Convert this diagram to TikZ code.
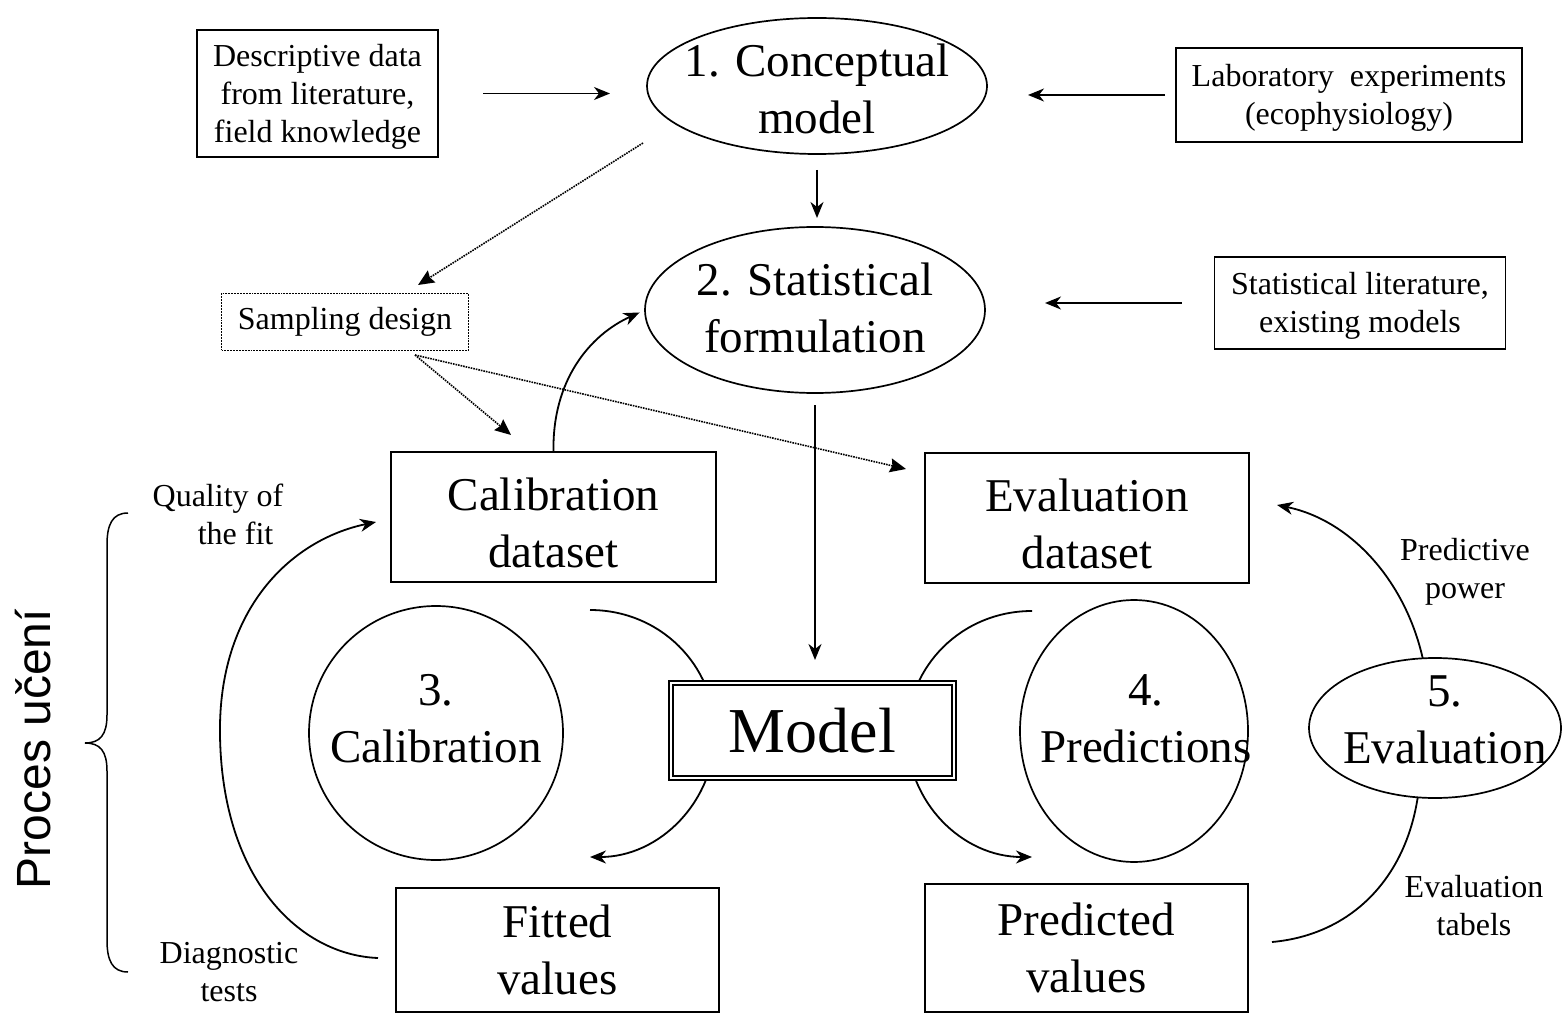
\documentclass[tikz,border=0pt]{standalone}
\usepackage{fontspec}
\setmainfont{Liberation Serif}
\newfontfamily\procfont{Liberation Sans}
\usetikzlibrary{arrows.meta,shapes.geometric}
\newcommand\fsm{\fontsize{32}{38}\selectfont}
\newcommand\fbg{\fontsize{47}{57}\selectfont}
\newcommand\fmd{\fontsize{64}{70}\selectfont}
\begin{document}
\begin{tikzpicture}[x=1pt,y=-1pt,
  box/.style={draw, line width=1.9pt, inner sep=0pt, outer sep=0pt, align=center, font=\fbg},
  sbox/.style={box, font=\fsm},
  ringshape/.style={ellipse, draw, line width=1.7pt, inner sep=0pt, outer sep=0pt},
  lbl/.style={align=center, font=\fsm, inner sep=0pt},
  blbl/.style={align=center, font=\fbg, inner sep=0pt},
  arr/.style={line width=1.8pt, -{Stealth[length=16pt,width=13pt,inset=5pt]}},
  darr/.style={line width=1.6pt, densely dotted, -{Stealth[length=16pt,width=14pt,inset=2pt]}},
  ln/.style={line width=1.8pt}
]
\useasboundingbox (0,0) rectangle (1563,1016);
\fill[white] (0,0) rectangle (1563,1016);

% arcs passing behind the Model box
\coordinate (a3s) at (590,610);
\coordinate (a3e) at (590,857);
\coordinate (a4s) at (1032,611);
\coordinate (a4e) at (1032,857);
\draw[arr] (a3s) .. controls (660,610) and (715,665) .. (715,733) .. controls (715,801) and (660,857) .. (a3e);
\draw[arr] (a4s) .. controls (962,611) and (907,666) .. (907,734) .. controls (907,802) and (962,857) .. (a4e);

% nodes
\node[sbox, minimum width=241pt, minimum height=127pt] (desc) at (317.5,93.5) {\rule{0pt}{28pt}Descriptive data\\from literature,\\field knowledge};
\node[ringshape, minimum width=340pt, minimum height=136pt] (ell1) at (817,86) {};
\node[blbl] (ell1t) at (817,89) {1. Conceptual\\model};
\node[sbox, minimum width=346pt, minimum height=94pt] (lab) at (1349,95) {\rule{0pt}{28pt}Laboratory\ \ experiments\\(ecophysiology)};
\node[ringshape, minimum width=340pt, minimum height=166pt] (ell2) at (815,310) {};
\node[blbl] (ell2t) at (815,308) {2. Statistical\\formulation};
\node[sbox, minimum width=291pt, minimum height=92pt] (stat) at (1360,303) {\rule{0pt}{28pt}Statistical literature,\\existing models};
\node[sbox, densely dotted, line width=1.4pt, minimum width=247pt, minimum height=57pt] (samp) at (345,322) {Sampling design};
\node[box, minimum width=325pt, minimum height=130pt] (cal) at (553.5,517) {\rule{0pt}{44pt}Calibration\\dataset};
\node[box, minimum width=324pt, minimum height=130pt] (evd) at (1087,518) {\rule{0pt}{44pt}Evaluation\\dataset};
\node[ringshape, minimum width=254pt, minimum height=254pt] (c3) at (436,733) {};
\node[blbl] (c3t) at (436,719) {3.\\Calibration};
\node[ringshape, minimum width=228pt, minimum height=262pt] (c4) at (1134,731) {};
\node[blbl] (c4t) at (1146,719) {4.\\Predictions};
\node[ringshape, minimum width=252pt, minimum height=140pt] (e5) at (1435,728) {};
\node[blbl] (e5t) at (1445,720) {5.\\Evaluation};
\node[draw, double, double distance=2.5pt, line width=1.3pt, fill=white, minimum width=283pt, minimum height=95pt, font=\fmd, inner sep=0pt, outer sep=0pt] (model) at (812.5,730.5) {Model};
\node[box, minimum width=323pt, minimum height=124pt] (fit) at (557.5,950) {Fitted\\values};
\node[box, minimum width=323pt, minimum height=128pt] (pred) at (1086.5,948) {Predicted\\values};

% side labels
\node[lbl] (qual) at (218,514) {Quality of\\\hspace*{1.1em}the fit};
\node[lbl] (diag) at (229,972) {Diagnostic\\tests};
\node[lbl] (predp) at (1465,572) {Predictive\\power};
\node[lbl] (evalt) at (1474,906) {Evaluation\\tabels};
\node[rotate=90, font={\procfont\fontsize{48}{56}\selectfont}, inner sep=0pt] (proc) at (33,749) {Proces učení};

% straight arrows
\draw[arr, shorten <=45pt, shorten >=37pt] (desc.east) -- (desc.east -| ell1.west);
\draw[arr, shorten <=11pt, shorten >=41pt] (lab.west) -- (lab.west -| ell1.east);
\draw[arr, shorten <=33pt, shorten >=60pt] (stat.west) -- (stat.west -| ell2.east);
\draw[arr, shorten <=16pt, shorten >=9pt] (ell1.south) -- (ell1.south |- ell2.north);
\draw[arr, shorten <=12pt, shorten >=23pt] (ell2.south) -- (ell2.south |- model.north);

% dotted arrows
\coordinate (d1s) at (643,143);
\coordinate (d1e) at (418,285);
\coordinate (d2s) at (415,355);
\coordinate (d2e) at (511,435);
\coordinate (d3e) at (906,469);
\draw[darr] (d1s) -- (d1e);
\draw[darr] (d2s) -- (d2e);
\draw[darr] (d2s) -- (d3e);

% calibration dataset -> statistical formulation
\draw[arr, shorten >=6pt] (cal.north) .. controls (552,380) and (590,335) .. (ell2.west);

% quality-of-fit loop
\coordinate (fl) at (378,958);
\coordinate (cl) at (376,522);
\draw[arr] (fl) .. controls (300,955) and (222,880) .. (220,735) .. controls (218,610) and (290,540) .. (cl);

% evaluation loop
\coordinate (pr) at (1272,942);
\coordinate (er) at (1277,505);
\draw[ln] (pr) .. controls (1350,935) and (1405,880) .. (e5.256);
\draw[arr] (e5.100) .. controls (1405,580) and (1350,520) .. (er);

% brace
\draw[line width=1.5pt] (128,513) .. controls (112,513) and (107,525) .. (107,545) -- (107,715) .. controls (107,735) and (100,743) .. (85,743) .. controls (100,743) and (107,751) .. (107,771) -- (107,940) .. controls (107,960) and (112,972) .. (128,972);
\end{tikzpicture}
\end{document}
